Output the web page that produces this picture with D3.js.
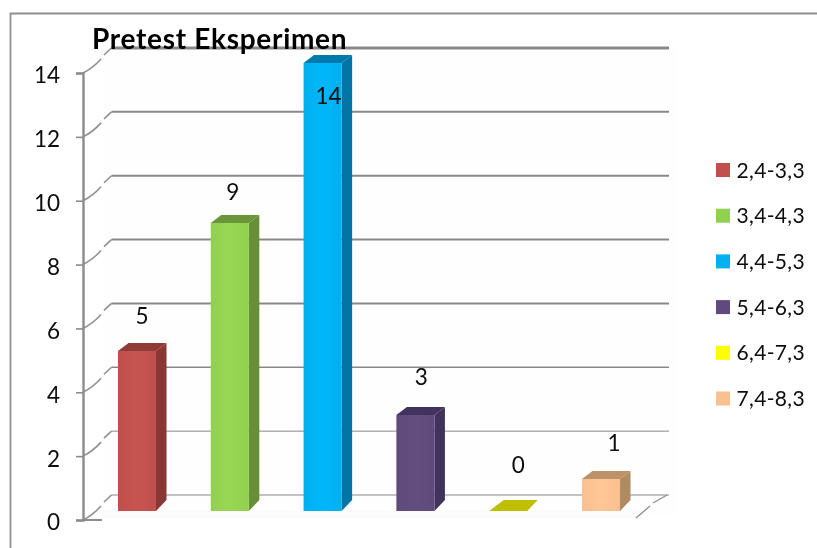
<!DOCTYPE html>
<html>
<head>
<meta charset="utf-8">
<script src="https://cdn.jsdelivr.net/npm/d3@7"></script>
<style>
html,body{margin:0;padding:0;background:#fff}
svg{display:block}
text{font-family:Lato,"Open Sans",sans-serif;fill:#0a0a0a}
</style>
</head>
<body>
<div id="chart"></div>
<script>
const chartTitle = "Pretest Eksperimen";
const categories = ["2,4-3,3","3,4-4,3","4,4-5,3","5,4-6,3","6,4-7,3","7,4-8,3"];
const values = [5,9,14,3,0,1];
const tickValues = [0,2,4,6,8,10,12,14];
const frontColors = ["#c0504d","#92d050","#00b0f0","#604a7b","#ffff00","#fac090"];
const sideColors = ["#8a3836","#668f38","#0075a6","#41305a","#b5b500","#b08a64"];
const topColors = ["#8f3b39","#6a953a","#0079ad","#43325e","#bfbf00","#bd9268"];
const gridWidths = [1,1,1.5,2,2,2,2,3];

const svg = d3.select("#chart").append("svg").attr("width",817).attr("height",548);
const defs = svg.append("defs");
defs.append("filter").attr("id","soft").attr("x","-5%").attr("y","-5%").attr("width","110%").attr("height","110%")
  .append("feGaussianBlur").attr("stdDeviation",0.5);
categories.forEach((c,i)=>{
  const g = defs.append("linearGradient").attr("id","face"+i);
  const base = d3.color(frontColors[i]);
  g.append("stop").attr("offset","0%").attr("stop-color",base.formatHex());
  g.append("stop").attr("offset","50%").attr("stop-color",base.brighter(0.1).formatHex());
  g.append("stop").attr("offset","100%").attr("stop-color",base.formatHex());
});

const depthX = 28.5, depthY = 25;
const barDX = 10.5, barDY = 8;
const yAxis = d3.scaleLinear().domain([0,14]).range([520,73]);
const yBar = d3.scaleLinear().domain([0,14]).range([511,63]);
const x = d3.scaleBand().domain(categories).range([90.6,647.4]).paddingInner(0.59).paddingOuter(0.295);
const legendY = d3.scalePoint().domain(categories).range([170,398.5]);

// outer frame (top and left edges only)
svg.append("path").attr("d","M817,13.5H10.5V548").attr("fill","none").attr("stroke","#8f8f8f").attr("stroke-width",1.8);

const plot = svg.append("g").attr("filter","url(#soft)");
plot.append("rect").attr("x",102).attr("y",yAxis(14)-depthY).attr("width",575).attr("height",yAxis(0)-yAxis(14)+depthY-5).attr("fill","#fefefe");

// back wall gridlines
plot.selectAll("line.grid").data(tickValues).join("line").attr("class","grid")
  .attr("x1",83+depthX).attr("x2",669)
  .attr("y1",d=>yAxis(d)-depthY).attr("y2",d=>yAxis(d)-depthY)
  .attr("stroke","#888").attr("stroke-width",(d,i)=>gridWidths[i]);

// left side wall depth lines
plot.selectAll("path.depth").data(tickValues).join("path").attr("class","depth")
  .attr("d",d=>`M83,${yAxis(d)}Q93,${yAxis(d)-5} 101,${yAxis(d)-14}M104,${yAxis(d)-18}L${83+depthX},${yAxis(d)-depthY}`)
  .attr("fill","none").attr("stroke","#909090").attr("stroke-width",1.6);

// floor
plot.append("rect").attr("x",102).attr("y",yBar(0)).attr("width",540).attr("height",8).attr("fill","#fbfbfb");
plot.append("path").attr("d",`M83,${yAxis(0)}H102`).attr("stroke","#8c8c8c").attr("stroke-width",2);
plot.append("path").attr("d",`M636,518L650,506M653,503L667,${yAxis(0)-depthY}`).attr("stroke","#909090").attr("stroke-width",1.4).attr("fill","none");

// bars
const bars = plot.selectAll("g.bar").data(categories).join("g").attr("class","bar");
bars.filter((d,i)=>values[i]>0).append("path").attr("fill",d=>sideColors[categories.indexOf(d)]).attr("d",d=>{
  const r = x(d)+x.bandwidth(), t = yBar(values[categories.indexOf(d)]), b = yBar(0);
  return `M${r},${t}L${r+barDX},${t-barDY}V${b-barDY-3}L${r},${b}Z`;
});
bars.append("path").attr("fill",(d,i)=>topColors[i]).attr("d",(d,i)=>{
  const l = x(d), r = l+x.bandwidth(), t = yBar(values[i]);
  return values[i]>0 ? `M${l},${t}L${l+barDX},${t-barDY}H${r+barDX}L${r},${t}Z`
                     : `M${l},${t}L${l+barDX+4},${t-barDY-3}H${r+barDX}L${r},${t}Z`;
});
bars.filter((d,i)=>values[i]>0).append("rect")
  .attr("x",d=>x(d)).attr("width",x.bandwidth())
  .attr("y",d=>yBar(values[categories.indexOf(d)]))
  .attr("height",d=>yBar(0)-yBar(values[categories.indexOf(d)]))
  .attr("fill",d=>`url(#face${categories.indexOf(d)})`);

// axis
const axis = plot.append("g").attr("transform","translate(83,0)")
  .call(d3.axisLeft(yAxis).tickValues(tickValues).tickSize(7).tickPadding(16).tickFormat(d3.format("d")));
axis.select(".domain").attr("stroke","#8c8c8c").attr("stroke-width",2.4);
axis.selectAll(".tick line").attr("stroke","#8c8c8c").attr("stroke-width",1.6);
axis.selectAll("text").attr("dy","0.44em").style("font-size","22.5px").style("font-family","Lato,sans-serif").attr("fill","#0a0a0a");

// value labels
const labelShift = [[5,-27],[3,-23],[6,41],[6,-30],[10,-38],[13,-28]];
plot.selectAll("text.val").data(categories).join("text").attr("class","val")
  .attr("x",(d,i)=>x(d)+x.bandwidth()/2+labelShift[i][0])
  .attr("y",(d,i)=>yBar(values[i])+labelShift[i][1])
  .attr("text-anchor","middle").style("font-size","22.5px")
  .text((d,i)=>values[i]);

// title
plot.append("text").attr("x",92).attr("y",49).style("font-size","28px").style("font-weight","700")
  .style("letter-spacing","0.7px").style("fill","#000").text(chartTitle);

// legend
const legend = plot.selectAll("g.leg").data(categories).join("g").attr("class","leg")
  .attr("transform",d=>`translate(716,${legendY(d)})`);
legend.append("rect").attr("y",-7).attr("width",14).attr("height",14).attr("fill",(d,i)=>frontColors[i]);
legend.append("text").attr("x",20.5).attr("y",7.5).style("font-size","21px").style("letter-spacing","0.35px").text(d=>d);
</script>
</body>
</html>
